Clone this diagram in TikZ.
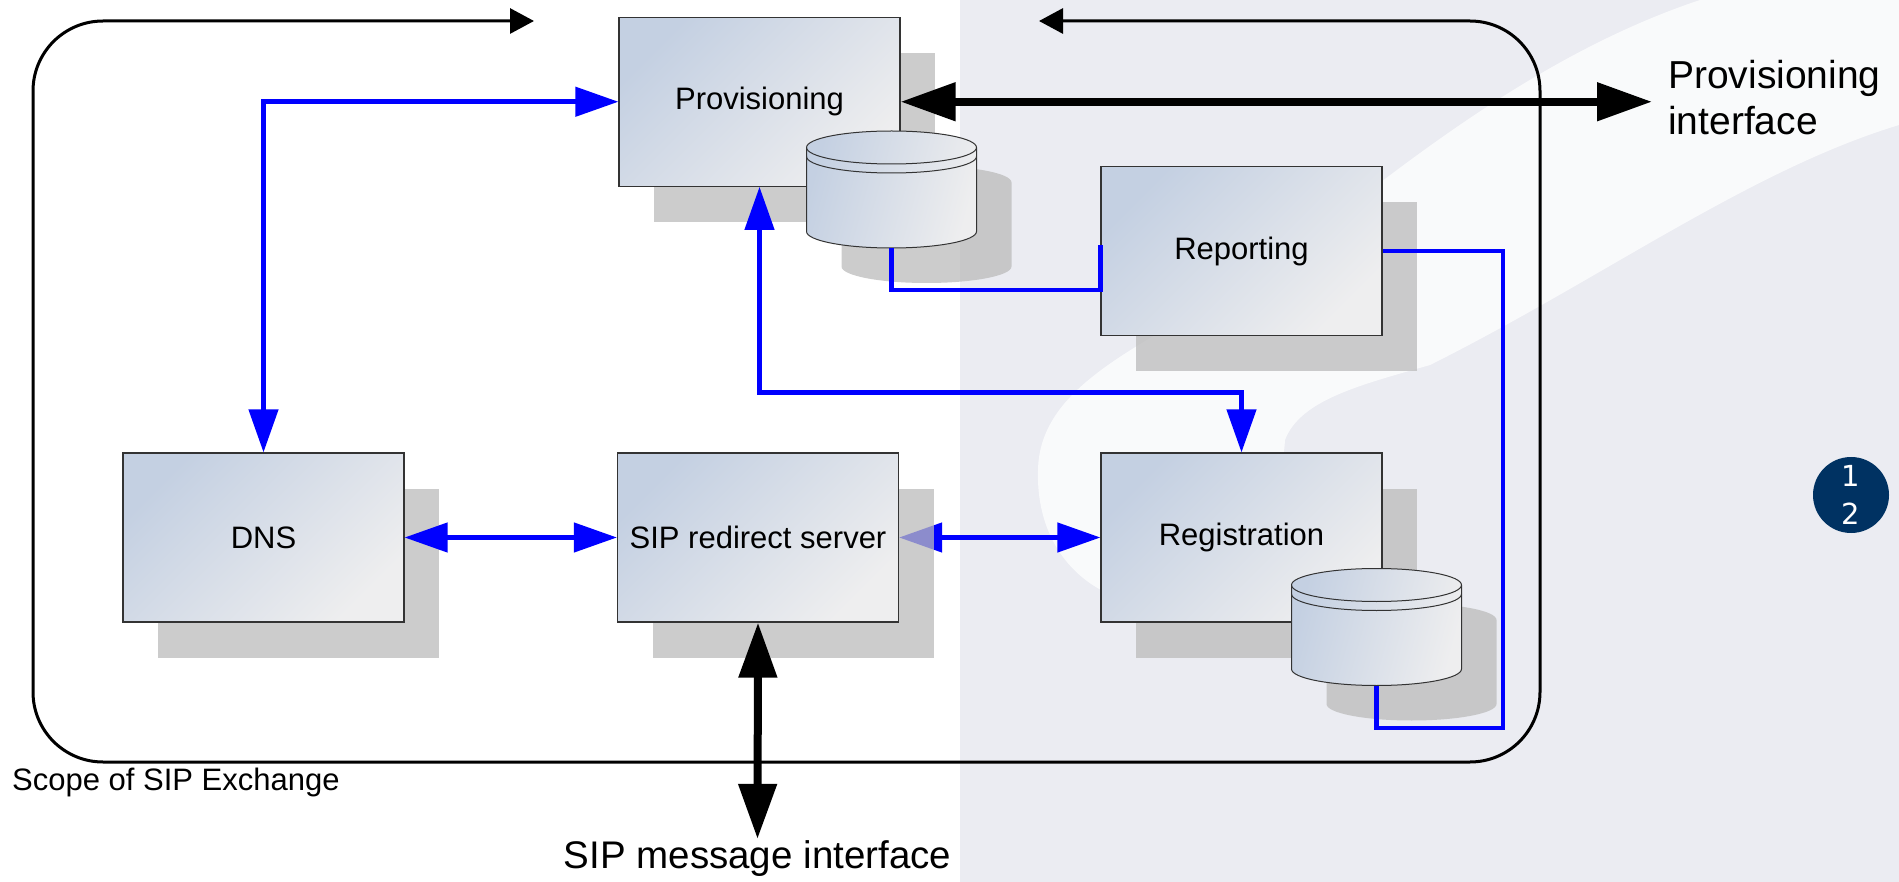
\documentclass[tikz,border=0pt]{standalone}
\usepackage{fontspec}
\setmainfont{Liberation Sans}
\newfontfamily\badgefont{DejaVu Sans}
\usetikzlibrary{arrows.meta,shadows}
\definecolor{boxblue}{RGB}{196,208,226}
\definecolor{boxgrey}{RGB}{238,238,239}
\definecolor{pagegrey}{RGB}{235,236,242}
\definecolor{linkblue}{RGB}{0,0,255}
\definecolor{badgeblue}{RGB}{0,50,98}
\definecolor{shadowgrey}{RGB}{187,187,187}
\pgfdeclarelayer{bg}
\pgfdeclarelayer{under}
\pgfsetlayers{bg,under,main}
\tikzset{
  unit/.style={draw=black!80,line width=1.2pt,inner sep=0pt,
    minimum width=281pt,minimum height=169pt,
    left color=boxblue,right color=boxgrey,shading angle=45,
    font=\fontsize{31}{36}\selectfont,
    drop shadow={shadow xshift=35pt,shadow yshift=-36pt,fill=shadowgrey,opacity=0.75}},
  link/.style={draw=linkblue,line width=4.5pt},
  twoway/.style={{Triangle[length=43pt,width=29pt]}-{Triangle[length=43pt,width=29pt]}},
  iface/.style={draw=black,line width=8pt,{Triangle[length=55pt,width=37pt]}-{Triangle[length=55pt,width=37pt]}},
  drum/.pic={
    \fill[shadowgrey,opacity=0.75] (-50,-7) -- (-50,77) arc[start angle=180,end angle=0,x radius=85,y radius=16.5]
      -- (120,-7) arc[start angle=0,end angle=-180,x radius=85,y radius=16.5] -- cycle;
    \path[draw=black!80,line width=1pt,left color=boxblue,right color=boxgrey,shading angle=75]
      (-85,-42) -- (-85,42) arc[start angle=180,end angle=0,x radius=85,y radius=16.5]
      -- (85,-42) arc[start angle=0,end angle=-180,x radius=85,y radius=16.5] -- cycle;
    \draw[black!80,line width=1pt] (-85,-42) arc[start angle=180,end angle=0,x radius=85,y radius=16.5];
    \draw[black!80,line width=1pt] (-85,-33) arc[start angle=180,end angle=0,x radius=85,y radius=16.5];
    \coordinate (-foot) at (0,58.5);
  }
}

\begin{document}
\begin{tikzpicture}[x=1pt,y=-1pt]
\useasboundingbox (0,0) rectangle (1899,882);
\begin{pgfonlayer}{bg}
  \fill[white] (0,0) rectangle (1899,882);
  \fill[pagegrey] (960,0) rectangle (1899,882);
  \fill[white,opacity=0.75] (1700,0) .. controls (1550,50) and (1420,150) .. (1300,245)
    .. controls (1180,335) and (1040,370) .. (1038,470)
    .. controls (1036,540) and (1075,585) .. (1125,600)
    .. controls (1230,590) and (1280,520) .. (1285,440)
    .. controls (1300,400) and (1360,385) .. (1430,365)
    .. controls (1600,280) and (1750,170) .. (1899,125) -- (1899,0) -- cycle;
\end{pgfonlayer}
\draw[line width=3pt,rounded corners=70pt,{Triangle[length=24pt,width=25pt]}-{Triangle[length=24pt,width=25pt]}]
  (534,21) -- (33,21) -- (33,762) -- (1540,762) -- (1540,21) -- (1039,21);

\node[unit] (prov) at (759.5,101.75) {Provisioning};
\node[unit] (report) at (1241.5,251) {Reporting};
\node[unit] (dns) at (263.5,537.5) {DNS};
\node[unit] (sip) at (758,537.5) {SIP redirect server};
\node[unit] (reg) at (1241.5,537.5) {Registration};
\pic (provdb) at (891.5,189.5) {drum};
\pic (regdb) at (1376.5,627) {drum};

\node[anchor=north west,inner sep=0pt,align=left,font=\fontsize{39}{46}\selectfont] (ifprov) at (1668,60) {Provisioning\\interface};
\node[anchor=base,inner sep=0pt,font=\fontsize{38.5}{44}\selectfont] (ifsip) at (757.5,868) {SIP message interface};
\node[anchor=base west,inner sep=0pt,font=\fontsize{31}{36}\selectfont] (scope) at (12,790) {Scope of SIP Exchange};
\node[circle,fill=badgeblue,minimum size=76pt,inner sep=0pt,text=white,align=center,
  font=\badgefont\fontsize{29}{38.5}\selectfont] (pageno) at (1851,495) {1\\2};

\draw[link,twoway] (dns.north) |- (prov.west);
\draw[link,twoway] (prov.south) -- ++(0,205.5) -| (reg.north);
\draw[link,twoway] (dns.east) -- (sip.west);
\begin{pgfonlayer}{under}
  \draw[link,twoway] (sip.east) -- (reg.west);
\end{pgfonlayer}
\draw[link] (provdb-foot) -- ++(0,42) -| ([yshift=6pt]report.west);
\draw[link] (report.east) -| (1503,728) -| (regdb-foot);
\draw[iface,shorten >=16pt] (prov.east) -- (prov.east -| ifprov.west);
\draw[iface,shorten >=1pt] (sip.south) -- (ifsip.north);
\end{tikzpicture}
\end{document}
